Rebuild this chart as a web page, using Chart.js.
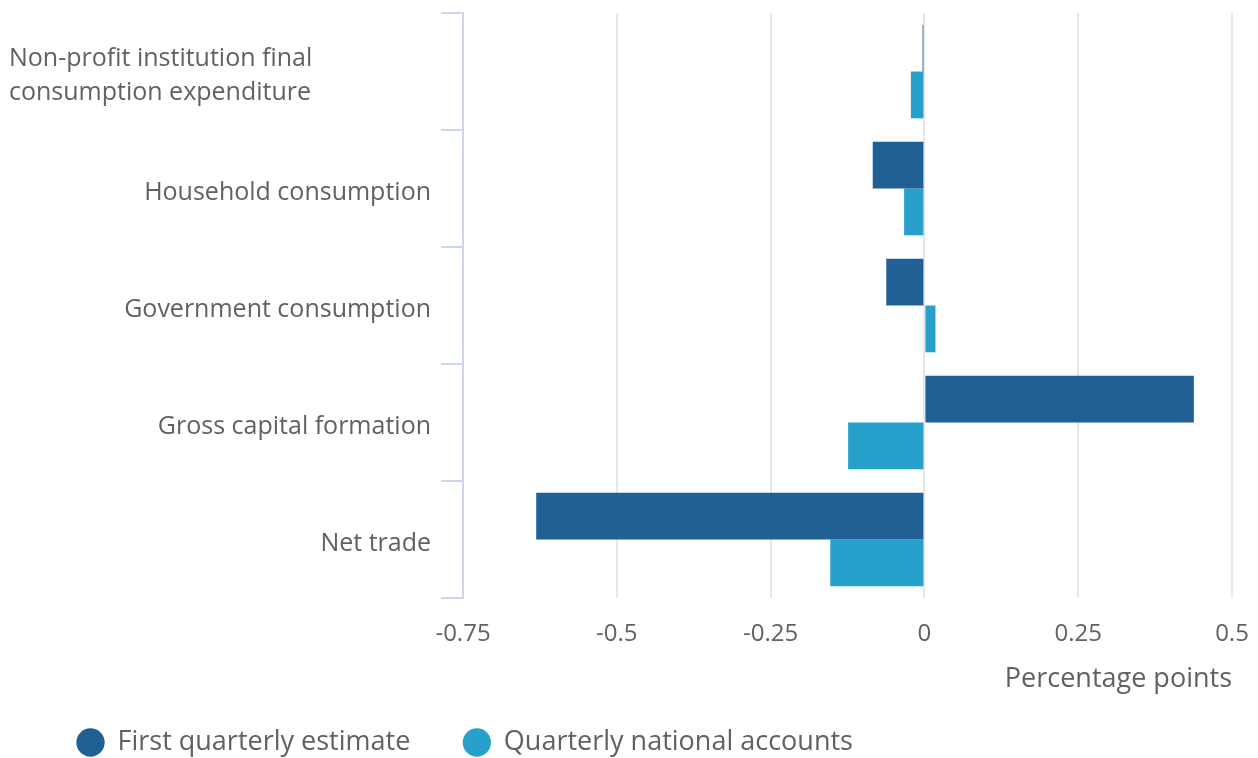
<!DOCTYPE html>
<html>
<head>
<meta charset="utf-8">
<script src="https://cdn.jsdelivr.net/npm/chart.js@4"></script>
<style>
  html, body { margin: 0; padding: 0; background: #fff; }
  #wrap { width: 1258px; height: 758px; }
</style>
</head>
<body>
<div id="wrap"><canvas id="barChart"></canvas></div>
<script>
const categories = [
  ["Non-profit institution final", "consumption expenditure"],
  "Household consumption",
  "Government consumption",
  "Gross capital formation",
  "Net trade"
];
const firstEstimate = [-0.003, -0.084, -0.062, 0.438, -0.631];
const nationalAccounts = [-0.022, -0.033, 0.018, -0.124, -0.153];
const xTicks = [-0.75, -0.5, -0.25, 0, 0.25, 0.5];

const FONT = "'Open Sans', sans-serif";
const TEXT = "#616161";
const PAD_LEFT = 24;

// draws the category labels; the long one is a left aligned block like the source
const catLabels = {
  id: "catLabels",
  afterDraw(chart) {
    const ctx = chart.ctx;
    const y = chart.scales.y;
    ctx.save();
    ctx.font = "25px " + FONT;
    ctx.fillStyle = TEXT;
    ctx.textBaseline = "middle";
    categories.forEach((lab, i) => {
      const cy = y.getPixelForTick(i) + 4;
      if (Array.isArray(lab)) {
        ctx.textAlign = "left";
        const lh = 34;
        lab.forEach((line, j) => {
          ctx.fillText(line, 9, cy + (j - (lab.length - 1) / 2) * lh);
        });
      } else {
        ctx.textAlign = "right";
        ctx.fillText(lab, 431, cy);
      }
    });
    ctx.restore();
  }
};

const CHART = document.getElementById("barChart");
let barChart = new Chart(CHART, {
  type: 'bar',
  data: {
    labels: categories,
    datasets: [
      {
        label: "First quarterly estimate",
        data: firstEstimate,
        backgroundColor: "#206095",
        borderWidth: 0,
        categoryPercentage: 0.8,
        barPercentage: 1.0,
      },
      {
        label: "Quarterly national accounts",
        data: nationalAccounts,
        backgroundColor: "#27a0cc",
        borderWidth: 0,
        categoryPercentage: 0.8,
        barPercentage: 1.0,
      }
    ]
  },
  options: {
    indexAxis: 'y',
    responsive: true,
    maintainAspectRatio: false,
    animation: false,
    layout: {
      padding: { left: PAD_LEFT, right: 26, top: 13, bottom: -8 }
    },
    scales: {
      x: {
        min: -0.75,
        max: 0.5,
        afterBuildTicks(scale) {
          scale.ticks = xTicks.map(v => ({ value: v }));
        },
        afterFit(scale) {
          scale.height = 78;
          scale.paddingLeft = 0;
          scale.paddingRight = 0;
        },
        ticks: {
          color: TEXT,
          font: { family: FONT, size: 24 },
          padding: 22,
          maxRotation: 0,
          callback: (v) => String(v),
        },
        grid: {
          color: "#e6e6e6",
          lineWidth: 2,
          drawTicks: false,
        },
        border: { display: false },
        title: {
          display: true,
          text: "Percentage points",
          align: 'end',
          color: TEXT,
          font: { family: FONT, size: 27 },
          padding: { top: 16, bottom: -20 },
        }
      },
      y: {
        afterFit(scale) {
          scale.width = 463 - PAD_LEFT;
        },
        ticks: { display: false },
        grid: {
          offset: true,
          drawOnChartArea: false,
          drawTicks: true,
          tickLength: 22,
          color: "#cdd6ee",
          lineWidth: 2,
        },
        border: { color: "#cdd6ee", width: 2 },
      }
    },
    plugins: {
      legend: {
        position: 'bottom',
        align: 'start',
        labels: {
          usePointStyle: true,
          pointStyle: 'circle',
          boxHeight: 20,
          color: TEXT,
          font: { family: FONT, size: 27 },
          padding: 53,
        }
      },
      tooltip: { enabled: false }
    }
  },
  plugins: [catLabels]
});
</script>
</body>
</html>
